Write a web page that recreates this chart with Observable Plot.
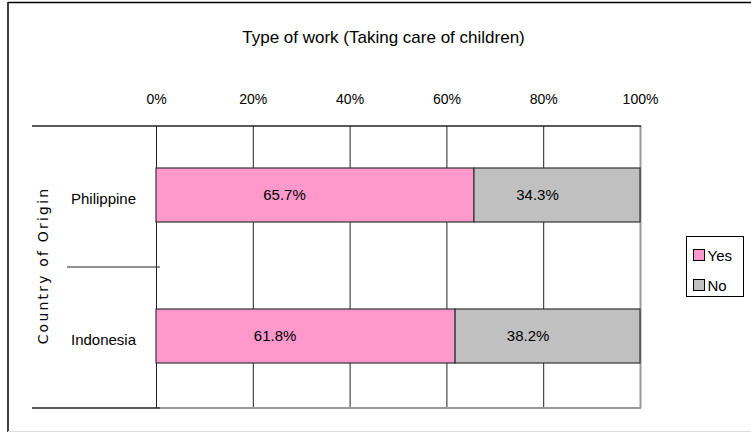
<!DOCTYPE html>
<html>
<head>
<meta charset="utf-8">
<script src="https://cdn.jsdelivr.net/npm/d3@7"></script>
<script src="https://cdn.jsdelivr.net/npm/@observablehq/plot@0.6"></script>
<style>
  html, body { margin: 0; padding: 0; background: #fff; }
  #chart svg { display: block; }
  #chart svg text[transform*="rotate"] { letter-spacing: 2.2px; }
</style>
</head>
<body>
<div id="chart"></div>
<script>
const title = "Type of work (Taking care of children)";
const yLabel = "Country of Origin";
const categories = ["Philippine", "Indonesia"];
const series = ["Yes", "No"];
const yesValues = [65.7, 61.8];
const noValues = [34.3, 38.2];
const xTicks = [0, 20, 40, 60, 80, 100];
const colors = ["#ff99cc", "#c0c0c0"];

const data = categories.flatMap((c, i) => [
  {country: c, answer: "Yes", value: yesValues[i]},
  {country: c, answer: "No", value: noValues[i]}
]);

const font = "'Liberation Sans', Arial, sans-serif";

const chart = Plot.plot({
  width: 751,
  height: 432,
  marginTop: 126,
  marginBottom: 24,
  marginLeft: 156,
  marginRight: 111,
  style: {fontFamily: font, fontSize: "13px", background: "#fff", color: "#000", overflow: "visible"},
  x: {domain: [0, 100]},
  y: {domain: categories, padding: 0},
  color: {domain: series, range: colors},
  marks: [
    Plot.ruleX(xTicks.slice(0, -1), {stroke: "#222", strokeWidth: 1}),
    Plot.ruleX(xTicks.slice(-1), {stroke: "#999", strokeWidth: 2}),
    Plot.barX(data, Plot.stackX({
      y: "country", x: "value", fill: "answer",
      stroke: "#333", strokeWidth: 1.2, insetTop: 42, insetBottom: 45
    })),
    Plot.text(data, Plot.stackX({
      y: "country", x: "value", z: "answer",
      text: d => d.answer === "Yes" ? d.value.toFixed(1) + "%" : "",
      dx: -31, dy: -2, fontSize: 15, fill: "#000"
    })),
    Plot.text(data, Plot.stackX({
      y: "country", x: "value", z: "answer",
      text: d => d.answer === "No" ? d.value.toFixed(1) + "%" : "",
      dx: -20, dy: -2, fontSize: 15, fill: "#000"
    })),
    Plot.axisX({anchor: "top", ticks: xTicks, tickSize: 0, tickPadding: 23,
      tickFormat: d => d + "%", fontSize: 14, label: null}),
    Plot.axisY({anchor: "left", tickSize: 0, tickPadding: 53, textAnchor: "middle",
      fontSize: 15, label: null, dy: 2}),
    Plot.text([title], {text: d => d, frameAnchor: "top", dy: -89, dx: -15,
      textAnchor: "middle", lineAnchor: "middle", fontSize: 17, fill: "#000"}),
    Plot.text([yLabel], {text: d => d, frameAnchor: "left", dx: -113, dy: -2,
      rotate: -90, textAnchor: "middle", lineAnchor: "middle", fontSize: 14, fill: "#000",
      fontFamily: "'DejaVu Sans', sans-serif"})
  ]
});

document.getElementById("chart").appendChild(chart);

// Decorative frame and legend, positioned from the chart's scales
const x = chart.scale("x"), y = chart.scale("y"), color = chart.scale("color");
const svg = d3.select(chart);
const x0 = x.apply(0), x1 = x.apply(100);
const yTop = y.apply(categories[0]);
const yMid = y.apply(categories[1]);
const yBot = yMid + y.bandwidth;
const g = svg.append("g").attr("fill", "none");
// outer frame
g.append("line").attr("x1", 8).attr("x2", 8).attr("y1", 2).attr("y2", 432).attr("stroke", "#000").attr("stroke-width", 1.5);
g.append("line").attr("x1", 8).attr("x2", 751).attr("y1", 2.5).attr("y2", 2.5).attr("stroke", "#000").attr("stroke-width", 1.5);
g.append("line").attr("x1", 8).attr("x2", 751).attr("y1", 431.5).attr("y2", 431.5).attr("stroke", "#ddd").attr("stroke-width", 1);
// table lines
g.append("line").attr("x1", 32).attr("x2", x1 + 1).attr("y1", yTop).attr("y2", yTop).attr("stroke", "#222").attr("stroke-width", 1.5);
g.append("line").attr("x1", 67).attr("x2", x0 + 4).attr("y1", yMid).attr("y2", yMid).attr("stroke", "#222").attr("stroke-width", 1.2);
g.append("line").attr("x1", x0 + 4).attr("x2", x1 + 1).attr("y1", yBot).attr("y2", yBot).attr("stroke", "#999").attr("stroke-width", 2);
g.append("line").attr("x1", 32).attr("x2", x0 + 4).attr("y1", yBot).attr("y2", yBot).attr("stroke", "#222").attr("stroke-width", 1.5);

// legend
const lg = svg.append("g").attr("transform", `translate(${x1 + 46.5},${(yTop + yBot) / 2 - 30.5})`);
lg.append("rect").attr("width", 57).attr("height", 60).attr("fill", "#fff").attr("stroke", "#000").attr("stroke-width", 1);
series.forEach((s, i) => {
  lg.append("rect").attr("x", 7).attr("y", 13 + i * 30).attr("width", 11).attr("height", 11)
    .attr("fill", color.apply(s)).attr("stroke", "#000").attr("stroke-width", 1);
  lg.append("text").attr("x", 21).attr("y", 19 + i * 30).attr("dy", "0.35em")
    .attr("text-anchor", "start")
    .attr("font-family", font).attr("font-size", 15).attr("fill", "#000").text(s);
});
</script>
</body>
</html>
